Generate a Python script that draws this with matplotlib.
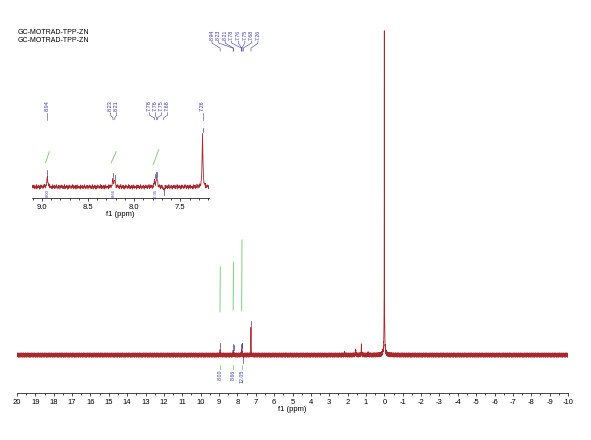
import numpy as np
import matplotlib.pyplot as plt
from matplotlib.ticker import MultipleLocator, FixedLocator

plt.rcParams['font.family'] = ['Liberation Sans', 'DejaVu Sans']
plt.rcParams['axes.unicode_minus'] = False

################################################
# Data

title_lines = ['GC-MOTRAD-TPP-ZN', 'GC-MOTRAD-TPP-ZN']

# peaks: shift (ppm), height (a.u.), half width (ppm)
peak_ppm = [8.94, 8.23, 8.21, 7.78, 7.76, 7.75, 7.68, 7.26, 2.17, 1.56, 1.25, 0.88, 0.00, 0.00]
peak_height = [1.6, 1.1, 1.1, 0.8, 0.9, 0.8, -0.5, 8.2, 0.7, 1.5, 3.0, 0.6, 88.0, 7.0]
peak_hw = [0.006, 0.006, 0.006, 0.006, 0.006, 0.006, 0.006, 0.005, 0.01, 0.01, 0.01, 0.01, 0.004, 0.03]

# picked peaks that get a label
label_ppm = [8.94, 8.23, 8.21, 7.78, 7.76, 7.75, 7.68, 7.26]
label_txt = ['8.94', '8.23', '8.21', '7.78', '7.76', '7.75', '7.68', '7.26']

# integrals
int_ppm = [8.94, 8.22, 7.76]
int_lo = [12.7, 13.3, 13.0]
int_hi = [26.0, 27.4, 33.9]
int_txt = ['8.00', '8.66', '12.05']
# inset integrals (start ppm, end ppm, y start, y end)
ins_int_a = [8.96, 8.25, 7.795]
ins_int_b = [8.92, 8.195, 7.735]
ins_int_lo = [3.7, 3.7, 3.4]
ins_int_hi = [5.4, 5.4, 5.7]

# baseline noise pattern (hand typed, tiled along the axis)
noise_pattern = [0.3, -0.6, 0.8, -0.2, 0.5, -0.9, 0.1, 0.7, -0.4, 0.2, -0.8, 0.6, -0.1,
                 0.9, -0.5, 0.4, -0.7, 0.0, 0.6, -0.3, 0.8, -0.6, 0.2, -0.9, 0.5, -0.2,
                 0.7, -0.4, 0.1, -0.8, 0.9, -0.1, 0.3, -0.7, 0.6, -0.5, 0.0, 0.8, -0.3,
                 0.4, -0.9, 0.2, 0.7, -0.6, 0.5, -0.1, -0.8, 0.3, 0.9, -0.4, 0.1, -0.7,
                 0.6, -0.2, 0.4, -0.5, 0.8, -0.9, 0.2, 0.0, -0.3]

################################################
# Spectrum

ppm = np.arange(-10.0, 20.0, 0.005)
noise = np.resize(np.array(noise_pattern), ppm.size)
peaks = np.zeros_like(ppm)
for p, h, w in zip(peak_ppm, peak_height, peak_hw):
    peaks += h / (1 + ((ppm - p) / w) ** 2)
spec_main = peaks + noise * 0.7
spec_ins = peaks + noise * 0.38

red = '#a8282e'
green = '#7fd07a'
blue = '#3a3aa8'

fig = plt.figure(figsize=(5.91, 4.4), dpi=100)

# main axes
ax = fig.add_axes([17/591, 47/440, 551/591, 373/440])
ax.plot(ppm, spec_main, color=red, lw=0.6)
ax.set_xlim(20, -10)
ax.set_ylim(-11.2, 98.8)
for s in ['top', 'left', 'right']:
    ax.spines[s].set_visible(False)
ax.spines['bottom'].set_linewidth(0.5)
ax.set_yticks([])
ax.xaxis.set_major_locator(MultipleLocator(1))
ax.xaxis.set_minor_locator(MultipleLocator(0.5))
ax.tick_params(axis='x', which='major', labelsize=5.5, length=2.5, width=0.5, pad=2)
ax.tick_params(axis='x', which='minor', length=1.5, width=0.5)
ax.set_xlabel('f1 (ppm)', fontsize=5.5, labelpad=0)

# integrals in main
for p, lo, hi, t in zip(int_ppm, int_lo, int_hi, int_txt):
    ax.plot([p + 0.01, p - 0.01], [lo, hi], color=green, lw=0.7)
    ax.plot([p, p], [-2.9, -4.0], color=green, lw=0.6)
    ax.text(p, -4.4, t, rotation=90, ha='center', va='top', fontsize=3.8, color=blue)

# peak pick markers in main
for p in label_ppm:
    i = np.argmin(abs(ppm - p))
    top = max(spec_main[i - 3:i + 4])
    if p == 7.68:
        ax.plot([p, p], [-0.5, -2.3], color=blue, lw=0.5)
    else:
        ax.plot([p, p], [top + 0.4, top + 1.8], color=blue, lw=0.5)

# peak labels at the top of main
x_lab = np.linspace(20 - (212 - 17) / 18.37, 20 - (258 - 17) / 18.37, len(label_ppm))
for xl, p, t in zip(x_lab, label_ppm, label_txt):
    ax.text(xl, 92.8, t, rotation=90, ha='center', va='bottom', fontsize=3.8, color=blue)
    ax.plot([xl, xl, p, p], [92.6, 92.0, 90.5, 89.6], color=blue, lw=0.4, clip_on=False)

# inset
axi = fig.add_axes([31.7/591, 242/440, 177.3/591, 103/440])
axi.plot(ppm, spec_ins, color=red, lw=0.6)
axi.set_xlim(9.11, 7.19)
axi.set_ylim(-1.7, 14.1)
for s in ['top', 'left', 'right']:
    axi.spines[s].set_visible(False)
axi.spines['bottom'].set_linewidth(0.5)
axi.set_yticks([])
axi.xaxis.set_major_locator(FixedLocator([9.0, 8.5, 8.0, 7.5]))
axi.xaxis.set_minor_locator(MultipleLocator(0.1))
axi.set_xticklabels(['9.0', '8.5', '8.0', '7.5'])
axi.tick_params(axis='x', which='major', labelsize=5.5, length=2.5, width=0.5, pad=2)
axi.tick_params(axis='x', which='minor', length=1.5, width=0.5)
axi.set_xlabel('f1 (ppm)', fontsize=5.5, labelpad=0)

for a, b, lo, hi, t in zip(ins_int_a, ins_int_b, ins_int_lo, ins_int_hi, int_txt):
    axi.plot([a, b], [lo, hi], color=green, lw=0.7)
    axi.text((a + b) / 2, -0.35, t, rotation=90, ha='center', va='top', fontsize=3.0, color=blue)

for p in label_ppm:
    i = np.argmin(abs(ppm - p))
    top = max(spec_ins[i - 3:i + 4])
    if p == 7.68:
        axi.plot([p, p], [-0.2, -1.2], color=blue, lw=0.5)
    else:
        axi.plot([p, p], [top + 0.2, top + 0.9], color=blue, lw=0.5)

x_ins = [8.94, 8.255, 8.19, 7.835, 7.77, 7.705, 7.64, 7.26]
for xl, p, t in zip(x_ins, label_ppm, label_txt):
    axi.text(xl, 11.6, t, rotation=90, ha='center', va='bottom', fontsize=4.0, color=blue)
    axi.plot([xl, xl, p, p], [11.4, 11.0, 10.6, 10.3], color=blue, lw=0.4, clip_on=False)

# sample name
fig.text(18/591, 1 - 33/440, title_lines[0], fontsize=5, va='center')
fig.text(18/591, 1 - 41/440, title_lines[1], fontsize=5, va='center')

fig.savefig('out.png', dpi=100)
